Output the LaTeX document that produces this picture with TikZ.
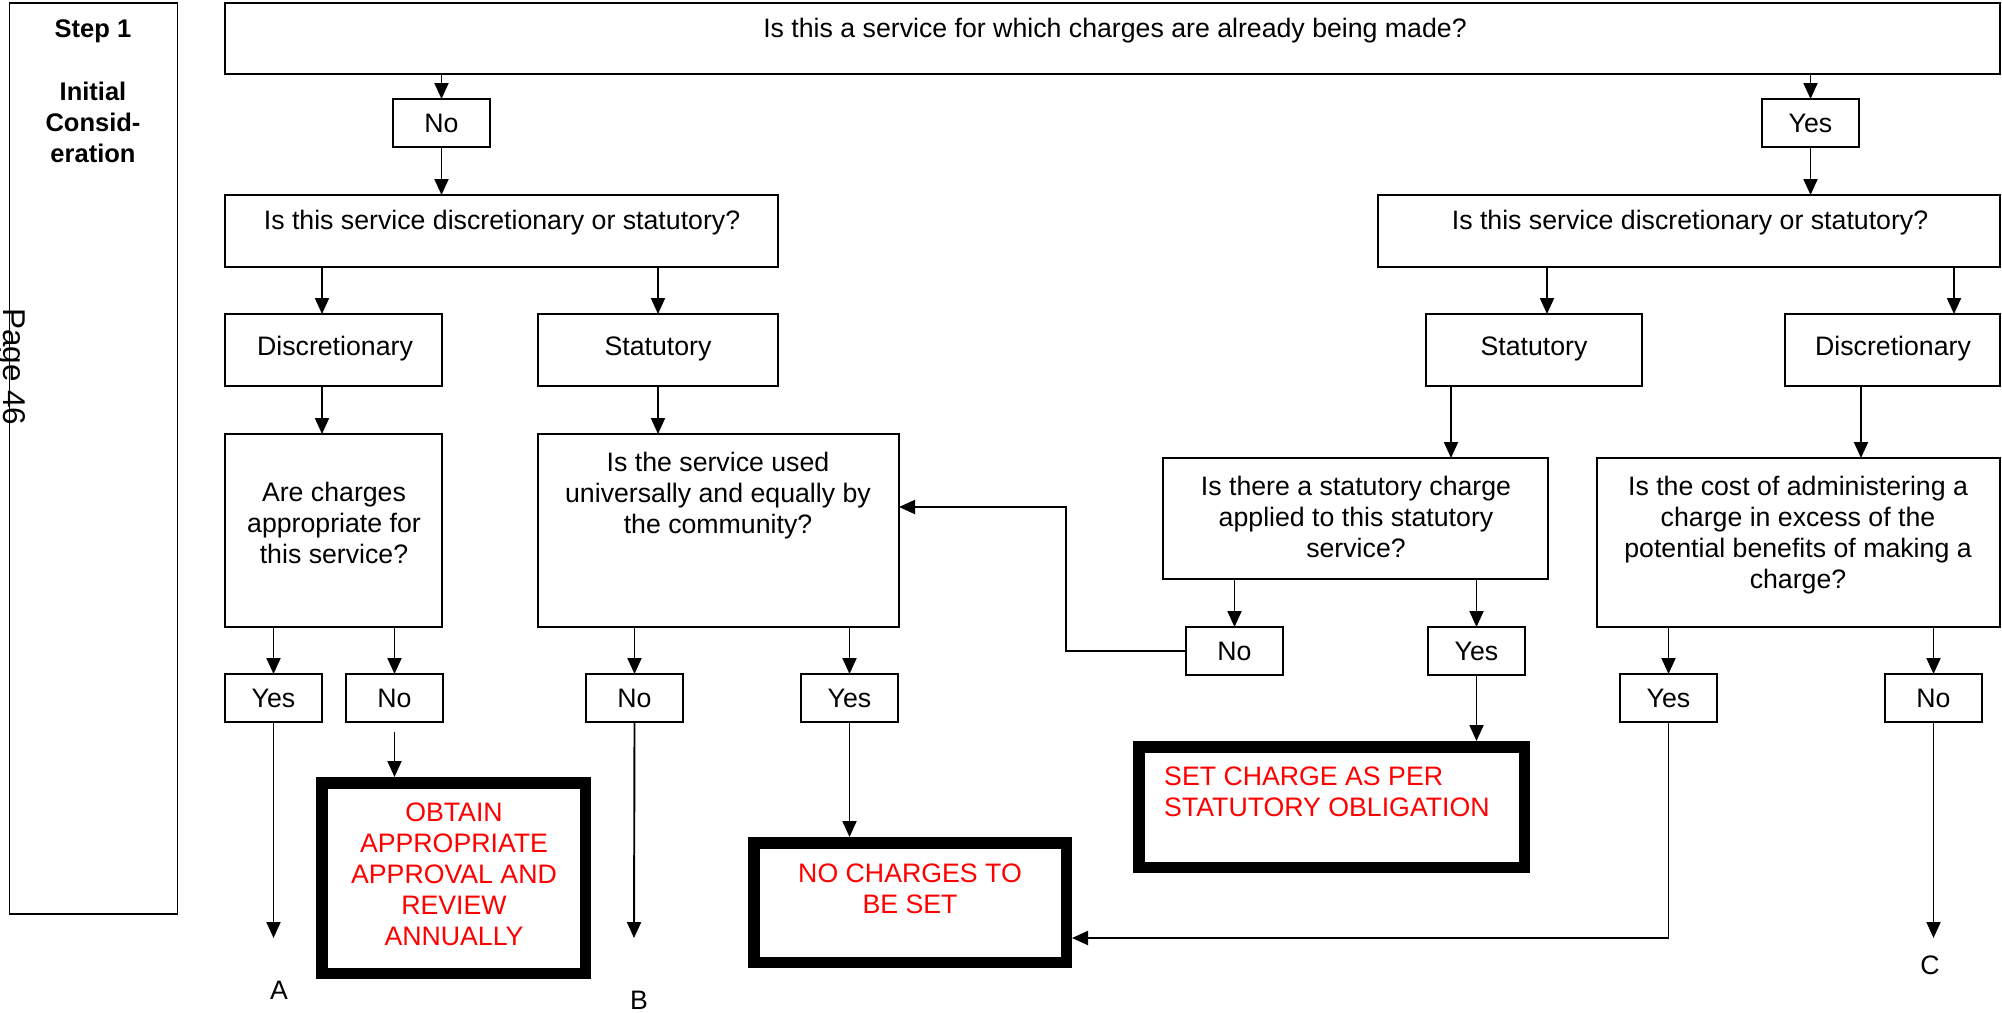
\documentclass[tikz,border=0pt]{standalone}
\usepackage{fontspec}
\setmainfont{Liberation Sans}
\usetikzlibrary{arrows.meta}
\tikzset{
  txt/.style={inner sep=0pt, align=center, font=\fontsize{26.7}{31}\selectfont},
  redtxt/.style={txt, text=red},
  steptxt/.style={inner sep=0pt, align=center, font=\fontsize{25.5}{31}\selectfont\bfseries},
  pagetxt/.style={inner sep=0pt, font=\fontsize{31.5}{36}\selectfont},
  frame/.style={draw, line width=1.9pt, inner sep=0pt, outer sep=0pt, anchor=north west},
  small/.style={frame, txt, minimum width=97pt, minimum height=48pt, text height=19pt, text depth=0pt},
  goal/.style={draw, line width=11.5pt, inner sep=0pt, outer sep=5.75pt, anchor=north west},
  arr/.style={line width=1.9pt, -{Triangle[length=16pt,width=14pt]}}
}
\begin{document}
\begin{tikzpicture}[x=1pt,y=-1pt]
\useasboundingbox (0,0) rectangle (2002,1012);

% step column
\node[frame, minimum width=168pt, minimum height=911pt] (step) at (9.5,3) {};
\node[steptxt, anchor=base] (steph) at (93,37) {Step 1};
\node[steptxt, anchor=north] (stepn) at (93,81.5) {Initial\\Consid-\\eration};
\node[pagetxt, rotate=-90, anchor=base west] (page) at (3,308) {Page 46};

% first question
\node[frame, minimum width=1775pt, minimum height=71pt] (q0) at (225,3) {};
\node[txt, anchor=base] (q0t) at (1115,37) {Is this a service for which charges are already being made?};
\node[small] (n0) at (393,99) {No};
\node[small] (y0) at (1762,99) {Yes};

% discretionary or statutory
\node[frame, minimum width=553pt, minimum height=72pt] (dsl) at (225,195) {};
\node[txt, anchor=base] (dslt) at (502,229) {Is this service discretionary or statutory?};
\node[frame, minimum width=622pt, minimum height=72pt] (dsr) at (1378,195) {};
\node[txt, anchor=base] (dsrt) at (1690,229) {Is this service discretionary or statutory?};

\node[frame, minimum width=217pt, minimum height=72pt] (discl) at (225,314) {};
\node[txt, anchor=base] (disclt) at (335,355) {Discretionary};
\node[frame, minimum width=240pt, minimum height=72pt] (statl) at (538,314) {};
\node[txt, anchor=base] (statlt) at (658,355) {Statutory};
\node[frame, minimum width=216pt, minimum height=72pt] (statr) at (1426,314) {};
\node[txt, anchor=base] (statrt) at (1534,355) {Statutory};
\node[frame, minimum width=215pt, minimum height=72pt] (discr) at (1785,314) {};
\node[txt, anchor=base] (discrt) at (1893,355) {Discretionary};

% second level questions
\node[frame, minimum width=217pt, minimum height=193pt] (qa) at (225,434) {};
\node[txt, anchor=north] (qat) at (334,482.4) {Are charges\\appropriate for\\this service?};
\node[frame, minimum width=361pt, minimum height=193pt] (qu) at (538,434) {};
\node[txt, anchor=north] (qut) at (718,452.4) {Is the service used\\universally and equally by\\the community?};
\node[frame, minimum width=385pt, minimum height=121pt] (qs) at (1163,458) {};
\node[txt, anchor=north] (qst) at (1356,476.4) {Is there a statutory charge\\applied to this statutory\\service?};
\node[frame, minimum width=403pt, minimum height=169pt] (qc) at (1597,458) {};
\node[txt, anchor=north] (qct) at (1798,476.4) {Is the cost of administering a\\charge in excess of the\\potential benefits of making a\\charge?};

% answers
\node[small] (yes1) at (225,674) {Yes};
\node[small] (no1) at (346,674) {No};
\node[small] (no2) at (586,674) {No};
\node[small] (yes2) at (801,674) {Yes};
\node[small] (no3) at (1186,627) {No};
\node[small] (yes3) at (1428,627) {Yes};
\node[small] (yes4) at (1620,674) {Yes};
\node[small] (no4) at (1885,674) {No};

% outcomes
\node[goal, minimum width=263.5pt, minimum height=190.5pt] (obtain) at (316,777) {};
\node[redtxt, anchor=north] (obtaint) at (454,803) {OBTAIN\\APPROPRIATE\\APPROVAL AND\\REVIEW\\ANNUALLY};
\node[goal, minimum width=312.5pt, minimum height=119.5pt] (nochg) at (748,837) {};
\node[redtxt, anchor=north] (nochgt) at (910,864) {NO CHARGES TO\\BE SET};
\node[goal, minimum width=385.5pt, minimum height=120.5pt] (setchg) at (1133,741) {};
\node[redtxt, align=left, anchor=north west] (setchgt) at (1164,767) {SET CHARGE AS PER\\STATUTORY OBLIGATION};

% continuation labels
\node[txt] (la) at (279,990) {A};
\node[txt] (lb) at (639,1000) {B};
\node[txt] (lc) at (1930,965) {C};

% connector columns
\coordinate (xdl) at (322,0);
\coordinate (xsr) at (1547,0);
\coordinate (xdr) at (1954,0);
\coordinate (xqs) at (1451,0);
\coordinate (xqc) at (1861,0);
\coordinate (endA) at (273.5,938);
\coordinate (endB) at (634,938);
\coordinate (endC) at (1933.5,938);
\coordinate (loop) at (1066,507);

% connectors
\draw[arr] (n0 |- q0.south) -- (n0.north);
\draw[arr] (n0.south) -- (n0 |- dsl.north);
\draw[arr] (y0 |- q0.south) -- (y0.north);
\draw[arr] (y0.south) -- (y0 |- dsr.north);

\draw[arr] (xdl |- dsl.south) -- (xdl |- discl.north);
\draw[arr] (statl |- dsl.south) -- (statl.north);
\draw[arr] (xsr |- dsr.south) -- (xsr |- statr.north);
\draw[arr] (xdr |- dsr.south) -- (xdr |- discr.north);

\draw[arr] (xdl |- discl.south) -- (xdl |- qa.north);
\draw[arr] (statl.south) -- (statl |- qu.north);
\draw[arr] (xqs |- statr.south) -- (xqs |- qs.north);
\draw[arr] (xqc |- discr.south) -- (xqc |- qc.north);

\draw[arr] (yes1 |- qa.south) -- (yes1.north);
\draw[arr] (no1 |- qa.south) -- (no1.north);
\draw[arr] (no2 |- qu.south) -- (no2.north);
\draw[arr] (yes2 |- qu.south) -- (yes2.north);
\draw[arr] (no3 |- qs.south) -- (no3.north);
\draw[arr] (yes3 |- qs.south) -- (yes3.north);
\draw[arr] (yes4 |- qc.south) -- (yes4.north);
\draw[arr] (no4 |- qc.south) -- (no4.north);

\draw[arr] (yes1.south) -- (endA);
\draw[arr] ([yshift=-10pt]no1.south) -- (no1 |- obtain.north);
\draw[arr] (no2.south) -- (endB);
\draw[arr] (yes2.south) -- (yes2 |- nochg.north);
\draw[arr] (yes3.south) -- (yes3 |- setchg.north);
\draw[arr] (no4.south) -- (endC);
\draw[arr] (yes4.south) -- (yes4 |- endA) -- (nochg.east |- endA);
\draw[arr] (no3.west) -| (loop) -- (qu.east |- loop);
\end{tikzpicture}
\end{document}
